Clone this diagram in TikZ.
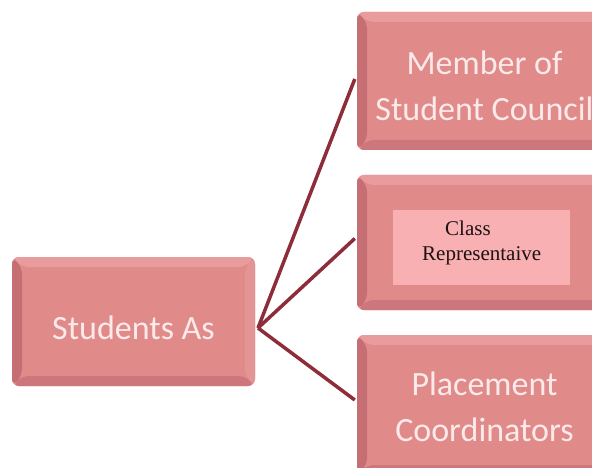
\documentclass[tikz,border=0pt]{standalone}
\usepackage{fontspec}
\setmainfont{Carlito}
\newfontfamily\serifface{Liberation Serif}
\definecolor{boxface}{HTML}{E08A8A}
\definecolor{bevtop}{HTML}{E99C9D}
\definecolor{bevright}{HTML}{E39494}
\definecolor{bevbottom}{HTML}{CB777C}
\definecolor{bevleft}{HTML}{C56F75}
\definecolor{boxtext}{HTML}{FCEAEA}
\definecolor{linkcol}{HTML}{8E2D3A}
\definecolor{innerpink}{HTML}{F8B0B2}
\definecolor{darktext}{HTML}{1E1212}
\tikzset{
  bevelbox/.style={rounded corners=7pt, fill=boxface, inner sep=0pt,
    path picture={
      \coordinate (pnw) at (path picture bounding box.north west);
      \coordinate (pne) at (path picture bounding box.north east);
      \coordinate (psw) at (path picture bounding box.south west);
      \coordinate (pse) at (path picture bounding box.south east);
      \fill[bevtop] (pnw) -- (pne) -- ([shift={(-10pt,-10pt)}]pne) -- ([shift={(10pt,-10pt)}]pnw) -- cycle;
      \fill[bevright] (pne) -- (pse) -- ([shift={(-10pt,10pt)}]pse) -- ([shift={(-10pt,-10pt)}]pne) -- cycle;
      \fill[bevbottom] (pse) -- (psw) -- ([shift={(10pt,10pt)}]psw) -- ([shift={(-10pt,10pt)}]pse) -- cycle;
      \fill[bevleft] (psw) -- (pnw) -- ([shift={(10pt,-10pt)}]pnw) -- ([shift={(10pt,10pt)}]psw) -- cycle;
    }},
  boxlabel/.style={text=boxtext, align=center, inner sep=0pt,
    font=\fontsize{34}{46}\selectfont},
  serifline/.style={anchor=base west, inner sep=0pt, text=darktext,
    font=\serifface\fontsize{21}{24}\selectfont},
  link/.style={draw=linkcol, line width=3.5pt},
}
\begin{document}
\begin{tikzpicture}[x=1pt,y=-1pt]
\clip (0,0) rectangle (592,468);
\fill[white] (0,0) rectangle (592,468);
\node[bevelbox, minimum width=243pt, minimum height=129pt] (stu) at (133.5,321.5) {};
\node[bevelbox, minimum width=255pt, minimum height=138pt] (mem) at (484.5,81) {};
\node[bevelbox, minimum width=255pt, minimum height=135pt] (cls) at (484.5,242.5) {};
\node[bevelbox, minimum width=255pt, minimum height=140pt] (plc) at (484.5,405) {};
\node[boxlabel] (stuT) at ([yshift=-6pt]stu.center) {Students As};
\node[boxlabel] (memT) at ([yshift=-5pt]mem.center) {Member of\\Student Council};
\node[boxlabel] (plcT) at ([yshift=-2pt]plc.center) {Placement\\Coordinators};
\node[fill=innerpink, minimum width=177pt, minimum height=75pt, inner sep=0pt] (inner) at (481.5,247.5) {};
\node[serifline] (clsA) at (445,235) {Class};
\node[serifline] (clsB) at (422,260) {Representaive};
\coordinate (hub) at (258,328);
\draw[link] (hub) -- ([xshift=-2pt,yshift=2pt]mem.west);
\draw[link] (hub) -- ([xshift=-2pt,yshift=4pt]cls.west);
\draw[link] (hub) -- ([xshift=-2pt,yshift=5pt]plc.west);
\end{tikzpicture}
\end{document}
